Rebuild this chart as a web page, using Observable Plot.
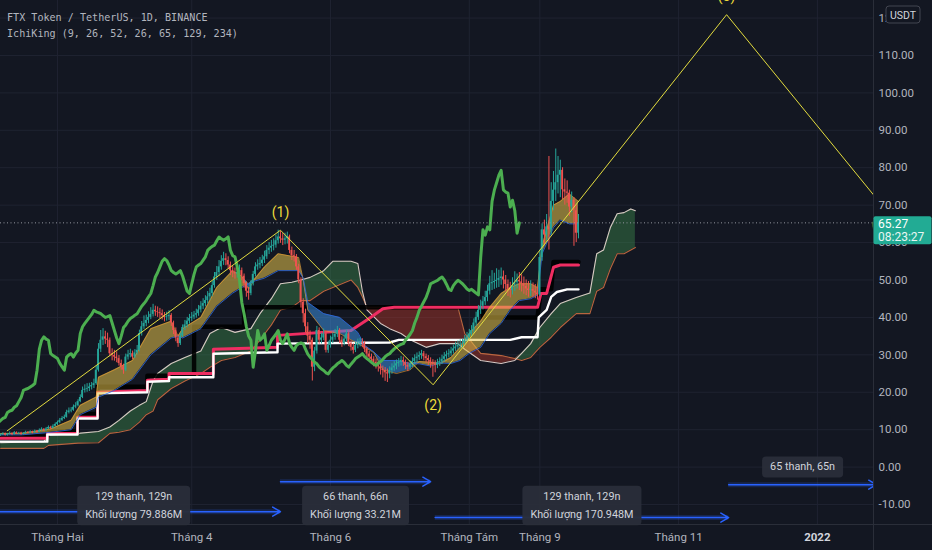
<!DOCTYPE html>
<html><head><meta charset="utf-8">
<script src="https://cdn.jsdelivr.net/npm/d3@7"></script>
<script src="https://cdn.jsdelivr.net/npm/@observablehq/plot@0.6"></script>
<style>
html,body{margin:0;padding:0;background:#131722;}
#chart{width:932px;height:550px;overflow:hidden;}
</style></head><body><div id="chart"></div>
<script>
// ---------- data (day index: 0 = 1 Jan 2021) ----------
const firstDay = 6;
const firstOpen = 8.4;
const closes = [
 8.6, 8.9, 8.5, 8.8, 9.0, 8.7, 9.2, 8.9, 9.1, 8.8,
 9.0, 9.3, 9.1, 9.4, 9.2, 9.6, 9.3, 9.8, 10.1, 9.7,
 10.2, 10.6, 10.3, 10.9, 11.4, 11.9, 12.5, 13.0, 13.3, 14.6,
 15.0, 15.2, 16.0, 16.4, 17.5, 18.6, 20.5, 20.8, 21.0, 21.4,
 21.8, 22.3, 25.9, 31.5, 33.9, 34.8, 34.2, 33.9, 30.3, 29.8,
 29.4, 29.0, 27.7, 26.8, 25.9, 29.4, 30.0, 30.3, 29.4, 30.5,
 31.2, 35.7, 37.5, 38.4, 39.2, 40.0, 40.8, 41.9, 41.5, 41.3,
 41.0, 40.5, 40.0, 40.2, 40.5, 38.5, 36.5, 34.5, 33.0, 35.0,
 37.3, 38.0, 39.0, 39.7, 40.1, 40.6, 41.0, 42.0, 43.0, 43.7,
 44.5, 45.5, 46.4, 48.5, 50.8, 52.0, 53.5, 55.0, 55.7, 55.2,
 54.0, 52.5, 52.0, 51.6, 52.0, 52.5, 51.0, 49.0, 47.0, 46.4,
 49.0, 51.5, 53.5, 54.0, 54.4, 55.3, 56.2, 57.9, 58.5, 59.0,
 59.3, 60.5, 61.5, 61.0, 60.6, 61.0, 61.5, 57.9, 56.5, 56.2,
 53.5, 50.0, 44.0, 41.0, 37.5, 35.0, 33.9, 26.7, 31.0, 36.5,
 33.9, 34.5, 35.6, 31.2, 32.5, 33.9, 34.7, 35.5, 36.5, 33.9,
 33.0, 34.2, 35.6, 33.0, 32.0, 31.2, 32.5, 33.0, 33.2, 33.0,
 31.5, 30.2, 29.4, 28.8, 28.0, 27.6, 26.8, 26.2, 25.8, 25.2,
 24.9, 25.8, 26.5, 27.0, 27.6, 28.0, 28.5, 28.0, 27.2, 26.7,
 27.5, 28.2, 29.0, 29.4, 29.8, 30.3, 29.5, 29.0, 28.5, 28.0,
 27.5, 27.2, 27.8, 28.2, 28.8, 29.5, 30.0, 30.3, 31.0, 31.6,
 32.1, 32.5, 32.8, 33.0, 34.0, 34.7, 35.5, 36.5, 38.5, 40.0,
 41.9, 43.0, 44.2, 45.3, 47.0, 49.0, 49.3, 49.6, 49.9, 50.4,
 50.8, 50.0, 48.8, 47.5, 47.2, 48.5, 49.3, 49.9, 49.5, 49.0,
 48.3, 47.6, 47.2, 47.5, 47.0, 46.5, 46.0, 56.0, 63.4, 62.0,
 64.2, 63.4, 71.0, 74.0, 76.0, 78.0, 79.3, 74.1, 73.5, 73.2,
 69.5, 71.3, 68.5, 62.5, 65.27
];
const highs = [
 8.9, 9.2, 9.1, 9.0, 9.4, 9.2, 9.5, 9.4, 9.3, 9.3,
 9.2, 9.6, 9.5, 9.7, 9.6, 9.9, 9.8, 10.2, 10.5, 10.3,
 10.6, 11.0, 10.9, 11.3, 11.8, 12.3, 13.0, 13.5, 13.9, 15.2,
 15.8, 15.9, 16.6, 17.2, 18.0, 19.3, 21.4, 22.0, 22.3, 22.4,
 22.6, 23.5, 27.0, 33.0, 36.5, 37.0, 36.3, 35.8, 34.5, 31.6,
 31.2, 30.8, 29.8, 28.6, 27.5, 30.2, 31.2, 31.5, 31.0, 31.4,
 32.5, 36.6, 38.9, 40.4, 40.6, 41.5, 42.6, 43.5, 43.0, 42.8,
 42.4, 42.0, 41.3, 41.4, 41.8, 41.0, 39.0, 37.2, 35.3, 35.8,
 38.0, 39.2, 40.0, 40.8, 41.3, 41.6, 42.2, 43.2, 44.2, 45.0,
 45.8, 46.9, 47.8, 49.6, 52.0, 53.6, 55.2, 56.5, 57.4, 57.0,
 56.2, 54.8, 53.6, 53.2, 53.4, 54.0, 53.2, 51.6, 49.5, 48.0,
 49.8, 52.3, 54.6, 55.4, 56.0, 56.6, 57.7, 59.2, 60.0, 60.6,
 61.0, 62.0, 63.3, 63.0, 62.4, 62.5, 62.8, 62.0, 58.8, 57.9,
 56.8, 54.2, 50.6, 45.0, 42.2, 38.6, 36.4, 34.5, 32.0, 37.6,
 37.2, 35.8, 36.9, 36.2, 33.6, 35.0, 35.9, 36.8, 37.6, 37.0,
 34.8, 35.2, 36.6, 36.0, 33.8, 32.9, 33.4, 34.2, 34.4, 34.3,
 33.6, 32.0, 30.9, 30.2, 29.5, 28.9, 28.2, 27.6, 27.0, 26.6,
 26.2, 26.8, 27.6, 28.2, 28.6, 29.0, 29.6, 29.4, 28.6, 28.0,
 28.4, 29.2, 30.0, 30.5, 30.8, 31.2, 30.9, 30.2, 29.8, 29.2,
 28.7, 28.4, 28.8, 29.2, 29.9, 30.6, 31.0, 31.4, 32.0, 32.6,
 33.4, 33.7, 34.0, 34.2, 35.2, 36.0, 36.8, 37.8, 39.6, 41.4,
 43.2, 44.6, 45.6, 47.0, 48.6, 51.0, 52.5, 51.8, 53.0, 52.6,
 53.2, 52.4, 51.2, 50.0, 49.4, 50.6, 52.2, 51.6, 52.0, 51.4,
 50.8, 50.0, 49.6, 49.8, 49.2, 48.8, 48.0, 58.0, 65.0, 66.0,
 67.5, 83.0, 76.0, 79.0, 85.0, 83.0, 82.0, 80.0, 77.0, 76.5,
 74.0, 73.5, 72.0, 70.0, 67.5
];
const lows = [
 8.2, 8.4, 8.3, 8.3, 8.6, 8.4, 8.6, 8.7, 8.7, 8.5,
 8.6, 8.9, 8.9, 9.0, 8.9, 9.1, 9.1, 9.2, 9.6, 9.5,
 9.6, 10.0, 10.0, 10.2, 10.7, 11.1, 11.6, 12.2, 12.7, 13.1,
 14.2, 14.5, 14.9, 15.6, 16.1, 17.2, 18.3, 19.8, 20.0, 20.2,
 20.6, 21.0, 21.9, 25.4, 30.6, 32.5, 32.8, 31.9, 29.5, 28.4,
 28.3, 27.9, 27.0, 25.9, 24.8, 25.5, 28.6, 29.2, 28.7, 29.0,
 30.0, 30.8, 35.0, 36.8, 37.5, 38.3, 39.4, 40.1, 40.3, 40.0,
 39.6, 39.3, 38.8, 39.0, 39.2, 37.6, 35.4, 33.5, 32.0, 32.5,
 34.6, 36.5, 37.2, 38.2, 38.9, 39.4, 39.8, 40.3, 41.2, 42.1,
 42.8, 43.6, 44.5, 45.5, 47.8, 49.9, 51.0, 52.6, 53.9, 53.8,
 52.9, 51.2, 50.6, 50.2, 50.5, 51.0, 49.8, 47.8, 45.4, 44.6,
 45.8, 48.4, 50.8, 52.6, 53.0, 53.6, 54.4, 55.5, 56.8, 57.4,
 57.8, 58.5, 59.6, 59.8, 59.2, 59.4, 59.6, 57.0, 55.2, 54.8,
 52.6, 49.0, 42.5, 38.5, 35.8, 33.0, 31.5, 23.0, 25.5, 30.2,
 32.8, 32.9, 33.8, 30.5, 30.4, 31.8, 33.0, 33.9, 34.6, 33.0,
 32.0, 32.4, 33.5, 32.2, 31.0, 30.2, 30.6, 31.6, 32.1, 31.9,
 30.6, 29.3, 28.2, 27.6, 26.8, 26.2, 25.4, 24.6, 23.8, 22.9,
 22.6, 23.6, 24.8, 25.6, 26.0, 26.7, 27.0, 26.9, 26.1, 25.5,
 25.9, 26.6, 27.3, 28.0, 28.5, 28.8, 28.4, 27.8, 27.2, 26.4,
 24.0, 25.2, 26.3, 26.9, 27.4, 28.0, 28.8, 29.2, 29.6, 30.2,
 30.9, 31.3, 31.6, 31.8, 32.4, 33.3, 34.0, 34.8, 35.8, 37.6,
 39.2, 40.8, 42.0, 43.2, 44.2, 46.0, 47.2, 47.5, 47.8, 48.0,
 48.6, 47.6, 46.8, 45.6, 45.2, 46.0, 47.0, 47.6, 47.2, 46.8,
 46.2, 45.8, 45.4, 45.6, 45.3, 45.0, 44.6, 45.6, 55.0, 59.5,
 60.5, 58.0, 62.0, 68.5, 71.0, 73.0, 72.0, 71.5, 70.0, 70.5,
 67.0, 68.0, 59.0, 60.0, 61.0
];
const chikouShift = 26;

// fast band (conversion / base lines)
const fastDays = [6, 15, 28, 37, 41, 48, 49, 56, 64, 72, 81, 84, 86, 94, 101, 108, 112, 115, 118, 122, 128, 137, 139, 141, 148, 155, 163, 166, 170, 174, 180, 186, 190, 195, 199, 204, 208, 212, 217, 221, 226, 230, 234, 239, 242, 244, 249, 252, 256, 260];
const fastA = [9.0, 9.0, 10.2, 12.5, 16.5, 18.7, 24.0, 26.0, 28.5, 37.0,
 39.0, 35.0, 37.0, 40.0, 48.0, 52.5, 51.0, 47.5, 50.5, 53.5,
 57.0, 56.0, 50.0, 42.0, 36.5, 35.7, 33.0, 32.0, 30.6, 26.0,
 25.0, 26.0, 28.2, 28.0, 27.5, 29.3, 32.0, 35.7, 39.0, 42.7,
 46.4, 48.0, 49.0, 49.0, 48.0, 59.0, 70.0, 71.0, 73.0, 71.0];
const fastB = [8.6, 8.6, 9.3, 10.0, 14.0, 16.0, 18.7, 20.5, 23.5, 30.0,
 34.5, 35.0, 34.5, 37.0, 43.0, 46.5, 48.0, 49.0, 49.8, 50.5,
 52.5, 52.5, 50.5, 44.0, 41.0, 40.0, 36.0, 32.5, 30.8, 28.5,
 28.5, 27.7, 27.6, 27.0, 27.8, 27.7, 28.5, 30.4, 32.0, 35.7,
 38.4, 42.0, 44.5, 45.0, 46.0, 57.0, 64.0, 66.0, 65.0, 65.0];

// main cloud (leading spans)
const cloudDays = [6, 25, 27, 40, 49, 54, 58, 63, 67, 70, 73, 75, 81, 87, 94, 98, 103, 109, 116, 120, 125, 129, 134, 138, 142, 148, 152, 160, 163, 165, 167, 173, 177, 182, 186, 193, 199, 207, 210, 217, 226, 232, 235, 239, 243, 248, 252, 259, 265, 268, 271, 274, 277, 280, 283, 285];
const spanA = [6.5, 6.8, 8.5, 9.0, 9.5, 10.7, 12.5, 15.0, 16.5, 17.5,
 23.0, 25.0, 27.7, 29.3, 31.0, 35.7, 37.3, 36.0, 37.0, 41.0,
 45.0, 49.0, 49.4, 50.0, 50.7, 52.5, 55.0, 55.0, 54.4, 47.0,
 42.0, 38.4, 37.0, 35.7, 34.0, 32.0, 33.0, 33.0, 31.5, 28.5,
 27.7, 28.5, 30.4, 33.0, 37.3, 41.0, 43.7, 45.3, 46.5, 57.0,
 58.0, 64.0, 67.7, 68.0, 69.0, 68.5];
const spanB = [5.0, 5.0, 5.8, 6.4, 6.5, 9.0, 9.3, 10.0, 12.0, 14.0,
 15.0, 18.0, 21.0, 23.0, 25.0, 26.7, 28.5, 29.3, 31.0, 34.0,
 38.0, 42.0, 42.7, 44.5, 44.5, 47.0, 48.0, 50.0, 48.0, 45.5,
 42.7, 42.7, 42.7, 42.7, 42.7, 42.7, 42.7, 42.7, 35.7, 30.4,
 29.8, 29.0, 28.5, 29.3, 32.0, 34.7, 37.3, 41.0, 41.0, 47.0,
 48.0, 53.0, 57.0, 57.0, 58.0, 58.7];

// stepped baselines
const pinkDays = [6, 26.5, 26.5, 39.8, 39.8, 48.6, 48.6, 70.5, 70.5, 80, 80, 99.5, 99.5, 127.7, 127.7, 160, 168.6, 174, 179, 242, 243.5, 246, 249, 252, 260];
const pinkVals = [7.7, 7.7, 9.0, 9.0, 13.3, 13.3, 20.0, 20.5, 23.2, 23.5, 25.0, 25.0, 31.5, 32.0, 35.2, 36.5, 40.0, 42.3, 42.7, 42.7, 46.4, 46.4, 53.4, 54.0, 54.0];
const whiteDays = [6, 26.5, 26.5, 39.8, 39.8, 48.6, 48.6, 70.5, 70.5, 80, 80, 99.5, 99.5, 127.7, 127.7, 177, 181, 230, 235, 242, 242.5, 246, 248, 250.5, 255, 260];
const whiteVals = [6.8, 6.8, 8.7, 8.7, 13.0, 13.0, 19.7, 20.0, 22.8, 23.0, 24.0, 24.0, 30.3, 30.7, 33.0, 33.3, 34.0, 34.0, 34.7, 34.7, 40.0, 42.0, 45.5, 46.8, 47.5, 47.5];
const blackDays = [6, 26.5, 26.5, 39.8, 39.8, 48.6, 48.6, 70.5, 70.5, 91, 91, 113, 113, 218, 218, 242, 243.5, 248, 249, 260];
const blackVals = [8.2, 8.2, 9.6, 9.6, 14.2, 14.2, 21.5, 21.5, 24.4, 24.4, 37.5, 37.5, 42.7, 42.7, 40.0, 40.0, 47.5, 47.5, 54.8, 54.8];

// Elliott wave drawing
const waveDays = [8.9, 129, 196.1, 325.1, 392.7];
const waveVals = [9.7, 63.3, 22.0, 120.9, 70.5];
const waveLabels = ["", "(1)", "(2)", "(3)", "(4)"];

// date-range measurements
const rangeStart = [0, 129, 197, 326];
const rangeEnd = [129, 195, 326, 391];
const rangeBars = [129, 66, 129, 65];
const rangeVolume = ["79.886M", "33.21M", "170.948M", null];
const rangeArrowPrice = [-11.9, -3.9, -13.5, -4.7];
const rangeLabelPrice = [-9.6, -9.6, -9.6, 0.7];

// axes & texts
const yTicks = [-10, 0, 10, 20, 30, 40, 50, 60, 70, 80, 90, 100, 110, 120];
const monthTicks = [31, 90, 151, 212, 243, 304, 365];
const monthLabels = ["Tháng Hai", "Tháng 4", "Tháng 6", "Tháng Tám", "Tháng 9", "Tháng 11", "2022"];
const legendLines = ["FTX Token / TetherUS, 1D, BINANCE", "IchiKing (9, 26, 52, 26, 65, 129, 234)"];
const lastPrice = 65.27;
const countdown = "08:23:27";
const currency = "USDT";

// ---------- build tables ----------
const UP = "#26a69a", DOWN = "#ef5350";
const candles = closes.map((c, i) => {
  const o = i ? closes[i - 1] : firstOpen;
  return {day: firstDay + i, open: o, close: c,
    high: Math.max(highs[i], o, c), low: Math.min(lows[i], o, c),
    lo: Math.min(o, c), hi: Math.max(o, c), col: c >= o ? UP : DOWN};
});
const fast = fastDays.map((d, i) => ({day: d, a: fastA[i], b: fastB[i], top: Math.max(fastA[i], fastB[i])}));
const cloud = cloudDays.map((d, i) => ({day: d, a: spanA[i], b: spanB[i], top: Math.max(spanA[i], spanB[i])}));
const series = (days, vals) => days.map((d, i) => ({day: d, v: vals[i]}));
const pink = series(pinkDays, pinkVals), white = series(whiteDays, whiteVals), black = series(blackDays, blackVals);
const wave = waveDays.map((d, i) => {
  const prev = waveVals[i - 1], next = waveVals[i + 1], v = waveVals[i];
  const peak = (prev === undefined || v > prev) && (next === undefined || v > next);
  return {day: d, v, label: waveLabels[i], peak};
});
const ranges = rangeStart.map((s, i) => ({
  start: s, end: rangeEnd[i], mid: (s + rangeEnd[i]) / 2,
  arrowPrice: rangeArrowPrice[i], labelPrice: rangeLabelPrice[i],
  label: `${rangeBars[i]} thanh, ${rangeBars[i]}n` + (rangeVolume[i] ? `\nKhối lượng ${rangeVolume[i]}` : "")
}));
const labelOf = new Map(monthTicks.map((t, i) => [t, monthLabels[i]]));
const GRID = "#1f2331";

const plot = Plot.plot({
  width: 932, height: 550,
  marginLeft: 0, marginRight: 59, marginTop: 0, marginBottom: 26,
  style: {background: "#131722", color: "#b2b5be", fontFamily: "Roboto, 'Noto Sans', sans-serif", fontSize: "11.5px", overflow: "hidden"},
  x: {type: "linear", domain: [5.93, 389.67]},
  y: {domain: [-15.34, 124.69]},
  marks: [
    Plot.gridY(yTicks, {stroke: GRID, strokeOpacity: 1}),
    Plot.gridX(monthTicks, {stroke: GRID, strokeOpacity: 1}),
    // main cloud
    Plot.areaY(cloud, {x: "day", y1: "b", y2: "top", fill: "#3f8f4f", fillOpacity: 0.42, clip: true}),
    Plot.areaY(cloud, {x: "day", y1: "a", y2: "top", fill: "#c0392b", fillOpacity: 0.42, clip: true}),
    Plot.line(cloud, {x: "day", y: "b", stroke: "#b8653f", strokeWidth: 1.1, clip: true}),
    Plot.line(cloud, {x: "day", y: "a", stroke: "#d9c9c4", strokeWidth: 1.1, clip: true}),
    // stepped lines
    Plot.line(black, {x: "day", y: "v", stroke: "#000000", strokeWidth: 4.5, strokeOpacity: 0.9, clip: true}),
    Plot.line(pink, {x: "day", y: "v", stroke: "#ef2d62", strokeWidth: 3, clip: true}),
    Plot.line(white, {x: "day", y: "v", stroke: "#ffffff", strokeWidth: 2.4, clip: true}),
    // fast band
    Plot.areaY(fast, {x: "day", y1: "b", y2: "top", fill: "#e6c34a", fillOpacity: 0.55, clip: true}),
    Plot.areaY(fast, {x: "day", y1: "a", y2: "top", fill: "#3d8fe0", fillOpacity: 0.55, clip: true}),
    Plot.line(fast, {x: "day", y: "a", stroke: "#f0a030", strokeOpacity: 0.6, strokeWidth: 1, clip: true}),
    Plot.line(fast, {x: "day", y: "b", stroke: "#2e6be6", strokeOpacity: 0.8, strokeWidth: 1, clip: true}),
    // candles
    Plot.ruleX(candles, {x: "day", y1: "low", y2: "high", stroke: "col", strokeWidth: 1, clip: true}),
    Plot.rect(candles, {x1: d => d.day - 0.4, x2: d => d.day + 0.4, y1: "lo", y2: "hi", fill: "col", clip: true}),
    // lagging span
    Plot.line(candles, {x: d => d.day - chikouShift, y: "close", stroke: "#4caf50", strokeWidth: 3, clip: true}),
    // last price
    Plot.ruleY([lastPrice], {stroke: "#9598a1", strokeDasharray: "1,2.5", strokeWidth: 1}),
    // wave
    Plot.line(wave, {x: "day", y: "v", stroke: "#e3dc3f", strokeWidth: 1, clip: true}),
    Plot.text(wave.filter(w => w.label && w.peak), {x: "day", y: "v", text: "label", dy: -18, fill: "#eedc3a", fontSize: 14}),
    Plot.text(wave.filter(w => w.label && !w.peak), {x: "day", y: "v", text: "label", dy: 21, fill: "#eedc3a", fontSize: 14}),
    // date ranges
    Plot.ruleY(ranges, {y: "arrowPrice", x1: "start", x2: "end", stroke: "#2962ff", strokeWidth: 5, strokeOpacity: 0.2, clip: true}),
    Plot.arrow(ranges, {x1: "start", x2: "end", y1: "arrowPrice", y2: "arrowPrice", stroke: "#2962ff", strokeWidth: 1.5, headLength: 9, clip: true}),
    Plot.text(ranges, {x: "mid", y: "labelPrice", text: "label", fill: "#d1d4dc", fontSize: 10.8, lineHeight: 1.72}),
    // axes
    Plot.axisY(yTicks, {anchor: "right", tickSize: 0, tickPadding: 5, tickFormat: d => d.toFixed(2), label: null, fontSize: 11.5}),
    Plot.axisX(monthTicks.slice(0, -1), {anchor: "bottom", tickSize: 0, tickPadding: 8, tickFormat: d => labelOf.get(d), label: null, fontSize: 11.5}),
    Plot.axisX(monthTicks.slice(-1), {anchor: "bottom", tickSize: 0, tickPadding: 8, tickFormat: d => labelOf.get(d), label: null, fontSize: 11.5, fontWeight: "bold", color: "#d1d4dc"})
  ]
});
document.getElementById("chart").append(plot);

// ---------- decorations ----------
const svg = d3.select(plot);
const xs = plot.scale("x"), ys = plot.scale("y");
const plotRight = xs.range[1], plotBottom = ys.range[0];

// label boxes behind the date-range texts
svg.selectAll("text").filter(function () { return /thanh/.test(this.textContent); }).each(function () {
  const bb = this.getBBox();
  const r = document.createElementNS("http://www.w3.org/2000/svg", "rect");
  const tr = this.getAttribute("transform");
  if (tr) r.setAttribute("transform", tr);
  r.setAttribute("x", bb.x - 8); r.setAttribute("y", bb.y - 4);
  r.setAttribute("width", bb.width + 16); r.setAttribute("height", bb.height + 8);
  r.setAttribute("rx", 4); r.setAttribute("fill", "#2a2e39"); r.setAttribute("fill-opacity", 0.96);
  this.parentNode.insertBefore(r, this);
});

svg.append("line").attr("x1", plotRight + 0.5).attr("x2", plotRight + 0.5).attr("y1", 0).attr("y2", 550).attr("stroke", "#2a2e39");
svg.append("line").attr("x1", 0).attr("x2", 932).attr("y1", plotBottom + 0.5).attr("y2", plotBottom + 0.5).attr("stroke", "#2a2e39");

const yp = ys.apply(lastPrice);
svg.append("rect").attr("x", plotRight + 0.5).attr("y", yp - 6).attr("width", 58).attr("height", 28).attr("rx", 2).attr("fill", "#22ab94");
svg.append("text").attr("x", plotRight + 5).attr("y", yp + 5.5).attr("text-anchor", "start").attr("fill", "#ffffff").attr("font-size", 12).attr("font-family", "Roboto, sans-serif").text(lastPrice.toFixed(2));
svg.append("text").attr("x", plotRight + 5).attr("y", yp + 18.5).attr("text-anchor", "start").attr("fill", "#e8f6f3").attr("font-size", 12).attr("font-family", "Roboto, sans-serif").text(countdown);

svg.append("rect").attr("x", plotRight + 13).attr("y", 6).attr("width", 34).attr("height", 17).attr("rx", 3).attr("fill", "#131722").attr("stroke", "#434651");
svg.append("text").attr("x", plotRight + 30).attr("y", 18.5).attr("text-anchor", "middle").attr("fill", "#d1d4dc").attr("font-size", 10.5).attr("font-family", "Roboto, sans-serif").text(currency);

legendLines.forEach((t, i) => {
  svg.append("text").attr("x", 7).attr("y", 21 + i * 16).attr("text-anchor", "start").attr("fill", "#b2b5be")
    .attr("font-family", "'DejaVu Sans Mono', monospace").attr("font-size", 10.1).text(t);
});
</script>
</body></html>
